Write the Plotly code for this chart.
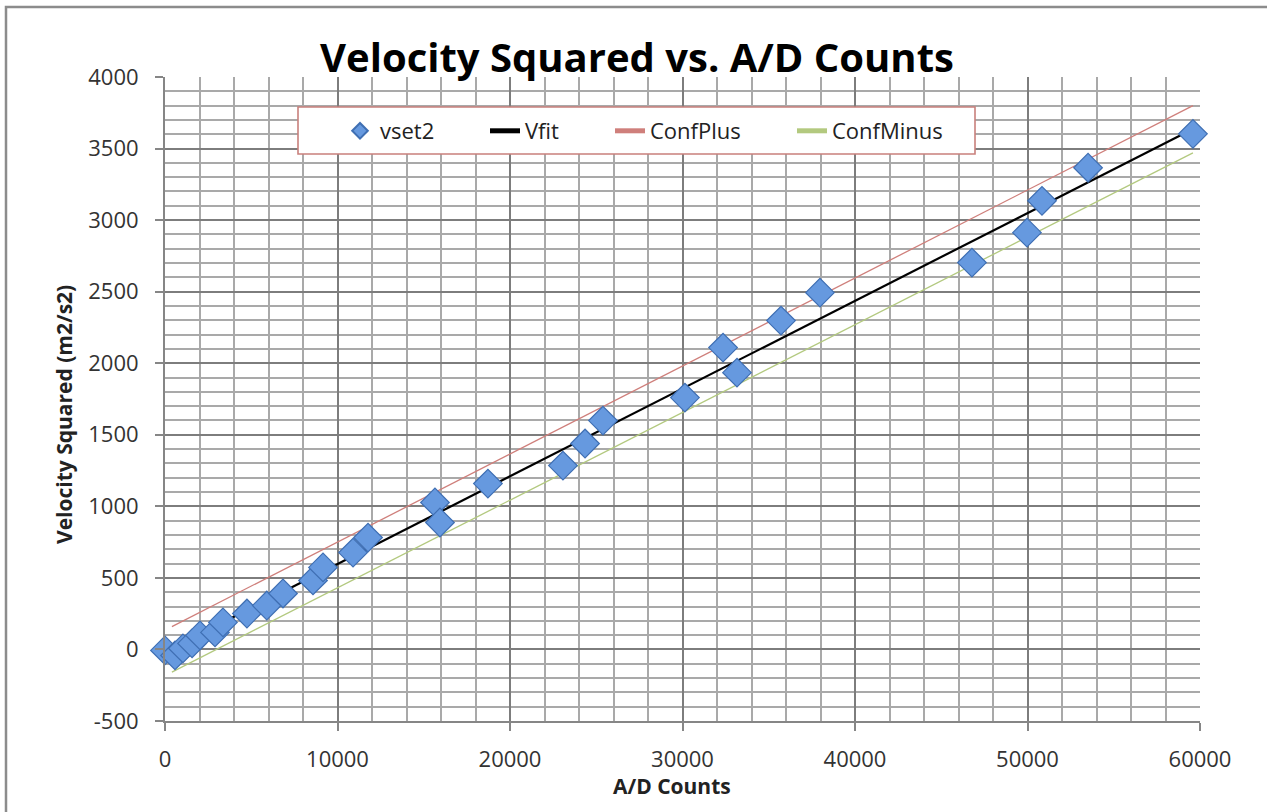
import plotly.graph_objects as go

# ---- data ----
ad_counts = [0, 580, 1040, 1570, 2030, 2900, 3360, 4750, 5900, 6840, 8580, 9160,
             10900, 11770, 15650, 15940, 18720, 23070, 24350, 25390, 30140, 32350,
             33160, 35710, 37970, 46780, 49970, 50840, 53510, 59590]
vset2 = [-7, -42, 7, 42, 98, 119, 189, 251, 307, 391, 482, 573,
         677, 782, 1027, 887, 1159, 1285, 1439, 1599, 1760, 2109,
         1934, 2298, 2493, 2703, 2912, 3135, 3366, 3603]

line_x = [400, 59590]
vfit = [8, 3637]
conf_plus = [160, 3800]
conf_minus = [-158, 3470]

x_ticks = [0, 10000, 20000, 30000, 40000, 50000, 60000]
y_ticks = [-500, 0, 500, 1000, 1500, 2000, 2500, 3000, 3500, 4000]

W, H = 1267, 812
L, R, T, B = 165, 67, 77, 91
PW, PH = W - L - R, H - T - B


def px_x(p):
    return (p - L) / PW


def px_y(p):
    return (H - B - p) / PH


FONT = "Open Sans"

fig = go.Figure()
fig.add_trace(go.Scatter(
    x=line_x, y=vfit, mode="lines", name="Vfit",
    line=dict(color="#000000", width=2.2), legendwidth=80, legendrank=2))
fig.add_trace(go.Scatter(
    x=line_x, y=conf_plus, mode="lines", name="ConfPlus",
    line=dict(color="#cf7f7b", width=1.3), legendwidth=137, legendrank=3))
fig.add_trace(go.Scatter(
    x=line_x, y=conf_minus, mode="lines", name="ConfMinus",
    line=dict(color="#b3c97f", width=1.3), legendwidth=110, legendrank=4))
fig.add_trace(go.Scatter(
    x=ad_counts, y=vset2, mode="markers", name="vset2",
    marker=dict(symbol="diamond", size=22, color="#6699df",
                line=dict(color="#3f6fb3", width=1.2)),
    cliponaxis=False, legendwidth=100, legendrank=1))

axis_common = dict(
    showline=True, linecolor="#868686", linewidth=2,
    ticks="outside", ticklen=8, tickwidth=2, tickcolor="#868686",
    showgrid=True, gridcolor="#7d7d7d", gridwidth=1.8,
    zeroline=False, automargin=False,
    tickfont=dict(family=FONT, size=22, color="#333333"),
)

fig.update_xaxes(range=[0, 60000], tickvals=x_ticks,
                 ticktext=[str(v) for v in x_ticks],
                 ticklabelstandoff=10,
                 minor=dict(dtick=2000, showgrid=True, gridcolor="#a9a9a9",
                            gridwidth=1.6, ticks=""),
                 **axis_common)
fig.update_yaxes(range=[-500, 4000], tickvals=y_ticks,
                 ticktext=[str(v) for v in y_ticks],
                 ticklabelstandoff=12,
                 minor=dict(dtick=100, showgrid=True, gridcolor="#a9a9a9",
                            gridwidth=1.6, ticks=""),
                 **axis_common)

fig.update_layout(
    width=W, height=H,
    margin=dict(l=L, r=R, t=T, b=B),
    paper_bgcolor="white", plot_bgcolor="white",
    title=dict(text="<b>Velocity Squared vs. A/D Counts</b>",
               font=dict(family=FONT, size=40, color="#000000"),
               x=637 / W, xanchor="center", xref="container",
               y=(H - 58) / H, yanchor="middle", yref="container"),
    showlegend=True,
    legend=dict(orientation="h", x=px_x(340), xanchor="left",
                y=px_y(131), yanchor="middle",
                bgcolor="rgba(0,0,0,0)", borderwidth=0,
                font=dict(family=FONT, size=22, color="#222222"),
                itemsizing="constant", traceorder="normal"),
    shapes=[
        # legend box
        dict(type="rect", xref="paper", yref="paper",
             x0=px_x(298), x1=px_x(975), y0=px_y(154), y1=px_y(107),
             fillcolor="white", line=dict(color="#c9807c", width=1.6),
             layer="above"),
        # outer chart frame
        dict(type="rect", xref="paper", yref="paper",
             x0=px_x(6), x1=px_x(1300), y0=px_y(840), y1=px_y(7),
             fillcolor="rgba(0,0,0,0)", line=dict(color="#8c8c8c", width=2.5),
             layer="above"),
    ],
    annotations=[
        dict(text="<b>A/D Counts</b>", xref="paper", yref="paper",
             x=px_x(672), y=px_y(786), xanchor="center", yanchor="middle",
             showarrow=False, font=dict(family=FONT, size=21, color="#222222")),
        dict(text="<b>Velocity Squared (m2/s2)</b>", xref="paper", yref="paper",
             x=px_x(64), y=px_y(415), xanchor="center", yanchor="middle",
             textangle=-90, showarrow=False,
             font=dict(family=FONT, size=21, color="#222222")),
    ],
)

fig.write_html("out.html")
